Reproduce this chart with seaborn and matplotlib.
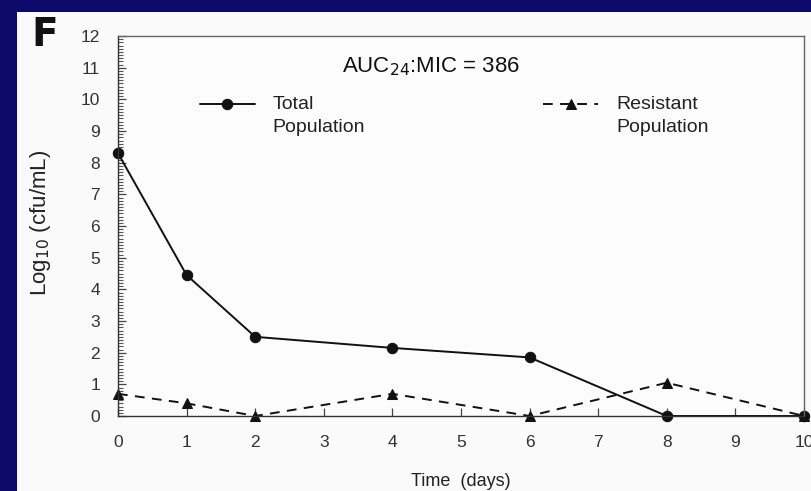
import matplotlib
matplotlib.use("Agg")
import matplotlib.pyplot as plt
import seaborn as sns
import pandas as pd
from matplotlib.ticker import MultipleLocator
from matplotlib.patches import Rectangle

# Data
days = [0, 1, 2, 4, 6, 8, 10]
total_pop = [8.3, 4.45, 2.5, 2.15, 1.85, 0.0, 0.0]
resistant_pop = [0.7, 0.4, 0.0, 0.7, 0.0, 1.05, 0.0]
series_names = ["Total\nPopulation", "Resistant\nPopulation"]
x_ticks = list(range(0, 11))
y_ticks = list(range(0, 13))

df = pd.concat([
    pd.DataFrame({"day": days, "val": total_pop, "series": series_names[0]}),
    pd.DataFrame({"day": days, "val": resistant_pop, "series": series_names[1]}),
])

sns.set_style("white")
plt.rcParams["font.family"] = ["Liberation Sans", "DejaVu Sans"]

fig = plt.figure(figsize=(8.12, 4.91), dpi=100)
fig.patch.set_facecolor("#0b0a6b")
bg = Rectangle((17 / 812, 0), 1 - 17 / 812, 1 - 12 / 491,
               transform=fig.transFigure, facecolor="#fafafa",
               edgecolor="none", zorder=-10)
fig.add_artist(bg)

ax = fig.add_axes([118 / 812, 1 - 416 / 491, (804 - 118) / 812, (416 - 36) / 491])
ax.set_zorder(5)
ax.set_facecolor("#fcfcfc")

sns.lineplot(data=df, x="day", y="val", hue="series", style="series",
             palette=["#111111", "#111111"], markers=["o", "^"],
             dashes=[(None, None), (5, 3.8)], markersize=7.5, linewidth=1.4,
             markeredgecolor="#111111", ax=ax, legend=True, clip_on=False)

ax.set_xlim(0, 10)
ax.set_ylim(0, 12)
ax.set_xticks(x_ticks)
ax.set_yticks(y_ticks)
ax.yaxis.set_minor_locator(MultipleLocator(0.1))
ax.tick_params(axis="both", which="major", direction="in", length=6, width=0.9,
               colors="#444444", labelcolor="#333333", labelsize=12.5)
ax.tick_params(axis="x", which="major", pad=14)
ax.tick_params(axis="y", which="major", pad=13)
ax.tick_params(axis="y", which="minor", direction="in", length=3.5, width=0.8,
               colors="#555555", left=True)
ax.tick_params(left=True, bottom=True)
for s in ax.spines.values():
    s.set_color("#666666")
    s.set_linewidth(1.0)
ax.spines["left"].set_color("#333333")
ax.spines["bottom"].set_color("#333333")

ax.set_xlabel("Time  (days)", fontsize=13, color="#222222", labelpad=16)
ax.set_ylabel("Log$_{10}$ (cfu/mL)", fontsize=16, color="#222222")
ax.yaxis.set_label_coords(-0.095, 0.508)

leg = ax.legend(loc="upper left", bbox_to_anchor=(0.119, 0.868), ncol=2,
                frameon=False, fontsize=14, handlelength=2.83,
                columnspacing=9.15, handletextpad=0.93, borderpad=0,
                borderaxespad=0, handleheight=4.6)
for t in leg.get_texts():
    t.set_color("#222222")
    t.set_linespacing(1.43)

ax.text(0.456, 0.918, "AUC$_{24}$:MIC = 386", transform=ax.transAxes,
        ha="center", va="center", fontsize=16, color="#111111")
fig.text(31 / 812, 1 - 35 / 491, "F", fontsize=28, fontweight="bold",
         family="DejaVu Sans", ha="left", va="center", color="#111111")

fig.savefig("out.png", dpi=100, facecolor=fig.get_facecolor())
